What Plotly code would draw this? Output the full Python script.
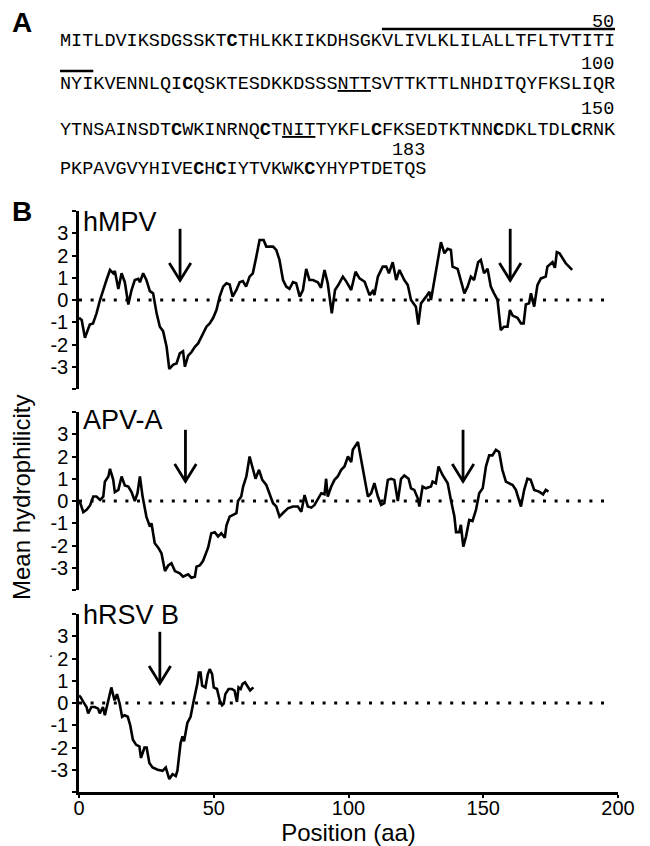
import plotly.graph_objects as go

# ---------------- data ----------------
seq_rows = [
    "MITLDVIKSDGSSKTCTHLKKIIKDHSGKVLIVLKLILALLTFLTVTITI",
    "NYIKVENNLQICQSKTESDKKDSSSNTTSVTTKTTLNHDITQYFKSLIQR",
    "YTNSAINSDTCWKINRNQCTNITTYKFLCFKSEDTKTNNCDKLTDLCRNK",
    "PKPAVGVYHIVECHCIYTVKWKCYHYPTDETQS",
]
row_end_labels = ["50", "100", "150", "183"]
overline_spans = {0: (29, 50), 1: (0, 3)}       # predicted transmembrane domain
underline_spans = {1: (25, 28), 2: (20, 23)}     # N-glycosylation sites

hmpv_pos = [0, 1, 2.2, 4, 5.2, 6.5, 7.8, 9, 10.2, 11.5, 12.7, 13.3, 14.6, 15.8, 17, 18.3, 19.5, 20.7,
            22, 22.6, 23.8, 25, 26.3, 27.5, 28.8, 30, 31.2, 32.5, 33.5, 35, 36.2, 37.4, 38.6, 39.3,
            40.5, 41.7, 43, 44.2, 44.8, 46, 47.3, 48.5, 49.8, 51, 52.2, 53.5, 54.7, 55.9, 57, 58.4,
            59.6, 60.8, 62, 63.3, 64.5, 65.8, 67, 68.5, 69.5, 72, 73.2, 74.4, 75.7, 76.9, 78.1, 79.4,
            80.6, 81.9, 83.1, 84.3, 85.5, 86.8, 88.6, 89.8, 91.1, 92.3, 93.8, 95, 96.2, 97.9, 99.1,
            101, 102.6, 104.1, 106, 107.8, 109, 109.6, 110.9, 112.7, 114, 115, 116.4, 117.7, 118.9,
            120.7, 122, 123.2, 125, 125.9, 126.9, 128.8, 130, 130.6, 131.8, 133, 134.3, 135.6, 136.8,
            138, 138.6, 140.5, 141.7, 143, 144.2, 145.4, 146.6, 148.1, 149.1, 150.3, 151.6, 152.8,
            154, 155.3, 156.5, 157.7, 159, 159.9, 160.9, 162.7, 164, 165, 165.8, 167, 167.7, 168.9,
            170.1, 171.4, 173.2, 173.8, 175.7, 176.6, 177.3, 178.3, 180.6, 183]
hmpv_val = [-0.8, -0.9, -1.7, -1.1, -1.05, -0.6, 0.0, 0.5, 0.9, 1.35, 1.2, 1.3, 0.5, 1.2, 0.8, -0.2,
            0.45, 0.9, 0.95, 0.8, 1.2, 0.9, 0.4, 0.3, -0.6, -1.2, -1.4, -2.1, -3.1, -2.9, -2.85, -2.4,
            -2.3, -3.0, -2.5, -2.35, -2.1, -1.95, -1.8, -1.5, -1.2, -1.05, -0.8, -0.45, 0.15, 0.6,
            0.75, 0.7, 0.15, 0.45, 0.8, 0.85, 0.6, 1.05, 1.2, 1.95, 2.7, 2.7, 2.4, 2.4, 2.25, 1.8,
            0.9, 0.6, 0.5, 0.8, 0.75, 0.15, 0.45, 1.4, 0.9, 0.9, 0.8, 0.55, 1.35, 0.75, -0.6, 0.45,
            0.67, 1.05, 0.85, 0.45, 1.27, 0.97, 0.82, 0.22, 0.4, 0.22, 1.05, 1.5, 1.5, 1.2, 1.7, 0.9,
            1.35, 0.9, 0.67, 0.0, -0.3, -1.1, -0.15, 0.15, 0.37, 0.0, 0.9, 1.65, 2.6, 2.1, 2.3, 2.25,
            1.5, 1.4, 0.9, 0.3, 0.6, 1.05, 0.9, 1.7, 1.8, 1.2, 1.4, 0.6, 0.3, 0.0, -1.35, -1.2, -1.2,
            -0.45, -0.7, -0.8, -1.05, -1.05, -0.2, -0.15, 0.3, -0.3, 0.67, 0.97, 1.05, 1.5, 1.7, 1.45,
            2.15, 2.1, 1.65, 1.35]

apv_pos = [0, 0.5, 1.6, 2.8, 4.1, 5.3, 6.5, 7.8, 9, 9.6, 10.9, 11.5, 12.7, 13.3, 14.6, 15.8, 17, 18.3,
           19.5, 20.7, 21.7, 22.6, 23.6, 25, 26.3, 26.9, 28.1, 29.4, 30.6, 31.9, 33.1, 34.3, 35.6,
           37.4, 38.6, 40.5, 41.7, 43, 43.6, 44.8, 46, 47.3, 47.9, 49.1, 50.4, 51.6, 52.8, 54.1, 54.7,
           55.9, 57.2, 58.4, 59, 60.2, 60.9, 62.1, 63.3, 64.6, 65.5, 66.8, 68, 69.5, 70.7, 72, 73.2,
           74.4, 75.6, 77.5, 79.4, 81.2, 82.5, 83.7, 84.9, 86.2, 87.4, 88.6, 89.9, 91.1, 91.7, 92.3,
           93.6, 94.8, 96, 97.3, 98.5, 99.8, 101, 101.6, 103.5, 104.7, 106, 107.2, 108.4, 109.6,
           110.9, 112.1, 113.3, 114.6, 115.8, 117, 118.3, 119.5, 120.7, 122.3, 123.2, 124.4, 125.7,
           126.3, 127.5, 128.7, 130.6, 131.2, 132.4, 133.4, 134.9, 136.8, 138, 139.3, 139.9, 141.1,
           141.7, 142.6, 143.6, 144.8, 146, 147.3, 148.5, 149.8, 151, 152.2, 153.4, 154.7, 155.9,
           157.1, 158.4, 159.6, 160.9, 162.1, 164, 165.2, 166.4, 167.6, 168.9, 170.7, 172.2, 173.2,
           174.2]
apv_val = [0.0, -0.1, -0.5, -0.4, -0.2, 0.2, 0.2, 0.05, 0.2, 0.87, 1.1, 1.45, 0.95, 0.4, 0.5, 1.1,
           0.7, 0.65, 0.4, 0.0, 0.35, 1.1, 0.2, -0.7, -1.15, -1.0, -1.9, -2.1, -2.35, -3.15, -2.9,
           -2.8, -3.15, -3.25, -3.4, -3.3, -3.45, -3.4, -2.95, -2.9, -2.7, -2.3, -2.1, -1.45, -1.4,
           -1.6, -1.45, -1.65, -1.1, -0.7, -0.63, -0.55, 0.0, 0.2, 0.65, 1.1, 2.0, 1.4, 1.0, 1.4, 0.95,
           0.72, 0.35, -0.1, -0.25, -0.7, -0.55, -0.33, -0.25, -0.25, -0.48, 0.27, -0.25, -0.3, -0.18,
           0.05, 0.35, 0.3, 1.0, 0.2, 0.65, 0.95, 1.1, 1.4, 1.55, 2.0, 1.75, 2.3, 2.65, 1.85, 0.95, 0.2,
           0.35, 0.8, 0.2, -0.18, -0.1, 0.95, 1.0, 0.95, 0.0, 1.0, 1.15, 1.0, 0.57, 0.5, 0.12, -0.25,
           0.65, 0.57, 0.65, 0.87, 0.8, 1.55, 1.17, 0.8, 0.05, -0.7, -1.4, -1.4, -1.07, -2.05, -1.6,
           -0.85, -0.9, -0.4, 0.35, 0.57, 1.55, 2.05, 2.05, 2.3, 2.2, 1.4, 0.87, 0.8, 0.72, 0.5,
           -0.25, 0.5, 1.0, 0.95, 0.5, 0.42, 0.3, 0.5, 0.42]

rsv_pos = [0, 0.6, 1.6, 2.8, 3.4, 4.6, 5.9, 7.1, 7.7, 8.9, 9.6, 10.8, 12, 12.6, 13.2, 14.1, 15.1, 16,
           16.9, 18.1, 19, 20, 21.2, 22.4, 23, 24.3, 25.1, 26.1, 27.3, 29.2, 31, 32.2, 32.8, 33.5,
           34.7, 35.9, 36.5, 37.7, 38.4, 39, 40.2, 41.4, 42.6, 43.9, 44.5, 45.1, 45.7, 46.9, 47.8,
           48.5, 49.4, 50, 51.2, 52.2, 53.1, 53.7, 54.3, 55.5, 56.7, 57.7, 58.6, 59.2, 60, 60.7, 61.6,
           62.6, 63.5, 64.7]
rsv_val = [0.34, 0.26, 0.05, -0.18, -0.47, -0.18, -0.18, -0.25, -0.47, -0.18, -0.55, 0.12, 0.7, 0.4,
           0.12, 0.4, -0.03, -0.62, -0.55, -0.62, -1.0, -1.65, -1.88, -1.95, -2.47, -2.0, -2.0, -2.7,
           -2.9, -3.0, -3.05, -2.9, -3.2, -3.42, -3.2, -3.28, -3.05, -1.8, -1.5, -1.72, -0.9, -0.62,
           0.12, 0.86, 1.37, 1.37, 0.78, 0.7, 1.3, 1.52, 1.3, 0.7, 0.63, 0.12, -0.1, -0.03, 0.4, 0.63,
           0.63, 0.56, 0.05, 0.7, 0.63, 0.86, 0.93, 0.7, 0.56, 0.7]

panel_names = ["hMPV", "APV-A", "hRSV B"]
arrow_positions = [[37.5, 160.0], [39.5, 142.5], [30.0]]
arrow_top = 3.2
arrow_tip = 0.88
x_ticks = [0, 50, 100, 150, 200]
y_ticks = [-4, -3, -2, -1, 0, 1, 2, 3, 4]
y_ticktext = ["", "-3", "-2", "-1", "0", "1", "2", "3", ""]

# ---------------- layout helpers (pixels -> paper) ----------------
W, H = 650, 846
def px(x):
    return x / W
def py(y):
    return 1 - y / H

XD = [px(79), px(618)]
panel_px = [(211, 389), (412, 590), (614, 792)]   # (top, bottom) of each y axis
label_y = [222, 420, 615]

SANS = "Liberation Sans, Arial, sans-serif"
MONO = "Liberation Mono, Courier New, monospace"

fig = go.Figure()
series = [(hmpv_pos, hmpv_val), (apv_pos, apv_val), (rsv_pos, rsv_val)]

for i, (xs, ys) in enumerate(series):
    xa = "x" if i == 2 else "x%d" % (i + 2)
    ya = "y" if i == 2 else "y%d" % (i + 2)
    # dotted zero line
    fig.add_trace(go.Scatter(x=[0, 198], y=[0, 0], mode="lines", xaxis=xa, yaxis=ya,
                             line=dict(color="black", width=3, dash="3px,8.6px"),
                             hoverinfo="skip", showlegend=False))
    # profile
    fig.add_trace(go.Scatter(x=xs, y=ys, mode="lines", xaxis=xa, yaxis=ya,
                             line=dict(color="black", width=2.6), showlegend=False))
    # arrows
    hw = 4.0   # half-width of the arrow head (x units)
    hh = 0.78  # height of the arrow head (y units)
    ax_, ay_ = [], []
    for a in arrow_positions[i]:
        ax_ += [a, a, None, a - hw, a, a + hw, None]
        ay_ += [arrow_top, arrow_tip, None, arrow_tip + hh, arrow_tip, arrow_tip + hh, None]
    fig.add_trace(go.Scatter(x=ax_, y=ay_, mode="lines", xaxis=xa, yaxis=ya,
                             line=dict(color="black", width=2.8), hoverinfo="skip",
                             showlegend=False))

yax_common = dict(range=[-4, 4], tickvals=y_ticks, ticktext=y_ticktext, ticks="outside",
                  ticklen=4, tickwidth=2, tickcolor="black", showline=True, linewidth=2.5,
                  linecolor="black", showgrid=False, zeroline=False,
                  tickfont=dict(family=SANS, size=20, color="black"))
layout = dict(width=W, height=H, margin=dict(l=0, r=0, t=0, b=0, autoexpand=False),
              paper_bgcolor="white", plot_bgcolor="white", showlegend=False)

for i in range(3):
    top, bot = panel_px[i]
    key = "" if i == 2 else str(i + 2)
    xkey = "xaxis" + key
    ykey = "yaxis" + key
    layout[ykey] = dict(domain=[py(bot), py(top)], anchor="x" + key, **yax_common)
    if i == 2:
        layout[xkey] = dict(domain=XD, range=[0, 200], anchor="y", tickvals=x_ticks,
                            ticks="outside", ticklen=3, tickwidth=2, tickcolor="black",
                            showline=True, linewidth=2.5, linecolor="black", showgrid=False,
                            zeroline=False, ticklabelstandoff=-7,
                            tickfont=dict(family=SANS, size=20, color="black"),
                            title=dict(text="Position (aa)",
                                       font=dict(family=SANS, size=24, color="black"),
                                       standoff=4))
    else:
        layout[xkey] = dict(domain=XD, range=[0, 200], anchor="y" + key, visible=False)

fig.update_layout(**layout)

annotations = []
shapes = []
# panel names
for i, name in enumerate(panel_names):
    annotations.append(dict(text=name, x=px(81), y=py(label_y[i]), xref="paper", yref="paper",
                            xanchor="left", yanchor="middle", showarrow=False,
                            font=dict(family=SANS, size=27, color="black")))
# y title
annotations.append(dict(text="Mean hydrophilicity", x=px(22), y=py(498), xref="paper",
                        yref="paper", textangle=-90, showarrow=False, xanchor="center",
                        yanchor="middle", font=dict(family=SANS, size=24, color="black")))
annotations.append(dict(text=".", x=px(47), y=py(662), xref="paper", yref="paper",
                        showarrow=False, font=dict(family=SANS, size=14, color="black")))
# panel letters
for letter, yy in [("A", 22), ("B", 212)]:
    annotations.append(dict(text="<b>%s</b>" % letter, x=px(10), y=py(yy), xref="paper",
                            yref="paper", xanchor="left", yanchor="middle", showarrow=False,
                            font=dict(family=SANS, size=28, color="black")))

# sequence
def markup(row_idx, s):
    un = underline_spans.get(row_idx)
    out = []
    i = 0
    while i < len(s):
        if un and i == un[0]:
            out.append('<u>' + s[un[0]:un[1]] + '</u>')
            i = un[1]
            continue
        ch = s[i]
        out.append('<b>C</b>' if ch == 'C' else ch)
        i += 1
    return "".join(out)

row_y = [41, 85, 130, 170]
num_y = [22, 65, 110, 150]
overline_y = {0: 29, 1: 71}
char_w = 11.1
x0 = 60
for r, s in enumerate(seq_rows):
    width = char_w * len(s)
    annotations.append(dict(text=markup(r, s), x=px(x0 + width / 2), y=py(row_y[r]),
                            xref="paper", yref="paper", xanchor="center", yanchor="middle",
                            showarrow=False, borderpad=0,
                            font=dict(family=MONO, size=18.5, color="black")))
    right = x0 + width
    annotations.append(dict(text=row_end_labels[r], x=px(right), y=py(num_y[r]), xref="paper",
                            yref="paper", xanchor="right", yanchor="middle", showarrow=False,
                            borderpad=0, font=dict(family=MONO, size=18.5, color="black")))
    if r in overline_spans:
        a, b = overline_spans[r]
        shapes.append(dict(type="line", xref="paper", yref="paper",
                           x0=px(x0 + a * char_w), x1=px(x0 + b * char_w),
                           y0=py(overline_y[r]), y1=py(overline_y[r]),
                           line=dict(color="black", width=2.5)))

fig.update_layout(annotations=annotations, shapes=shapes)
fig.write_html("out.html", config={"displayModeBar": False},
               post_script="document.body.style.margin='0px';")
